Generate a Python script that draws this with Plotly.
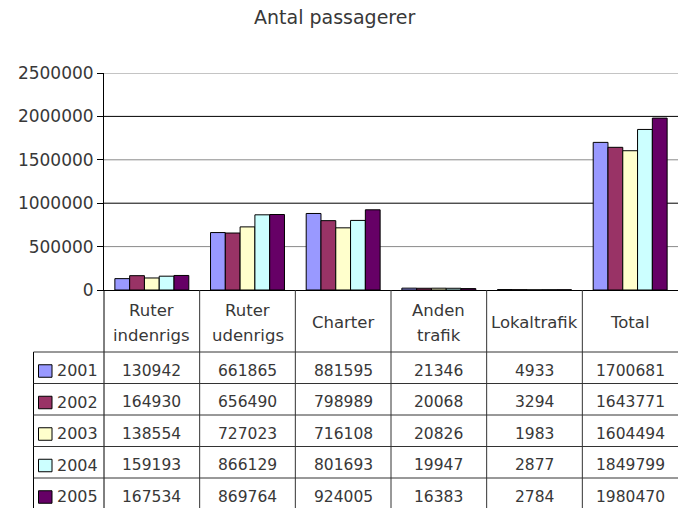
import plotly.graph_objects as go

categories = ["Ruter<br>indenrigs", "Ruter<br>udenrigs", "Charter", "Anden<br>trafik", "Lokaltrafik", "Total"]
years = ["2001", "2002", "2003", "2004", "2005"]
v2001 = [130942, 661865, 881595, 21346, 4933, 1700681]
v2002 = [164930, 656490, 798989, 20068, 3294, 1643771]
v2003 = [138554, 727023, 716108, 20826, 1983, 1604494]
v2004 = [159193, 866129, 801693, 19947, 2877, 1849799]
v2005 = [167534, 869764, 924005, 16383, 2784, 1980470]
series = [v2001, v2002, v2003, v2004, v2005]
colors = ["#9999FF", "#993366", "#FFFFCC", "#CCFFFF", "#660066"]
yticks = [0, 500000, 1000000, 1500000, 2000000, 2500000]

W, H = 678, 508
L, R, T, B = 104, 0, 73, 218
PW, PH = W - L - R, H - T - B
FONT = "DejaVu Sans"
TXT = "#383838"


def px_x(px):
    return (px - L) / PW


def px_y(py):
    return (H - B - py) / PH


fig = go.Figure()
xs = list(range(len(categories)))
for name, vals, col in zip(years, series, colors):
    fig.add_trace(go.Bar(x=xs, y=vals, name=name, marker=dict(color=col, line=dict(color="#000000", width=1)),
                         showlegend=False, hoverinfo="skip"))

shapes = []
# gridlines (alternating tones like the original rendering)
for t in yticks[1:]:
    shapes.append(dict(type="line", xref="paper", yref="y", x0=0, x1=1, y0=t, y1=t,
                       line=dict(color="#000000" if t % 1000000 == 0 else "#8a8a8a", width=1), layer="below"))

row_lines = [352, 383.5, 415, 446.5, 478, 509.5]
table_left = 33.5
# vertical column separators
for k in range(len(categories) - 1):
    shapes.append(dict(type="line", xref="x", yref="paper", x0=k + 0.5, x1=k + 0.5,
                       y0=0, y1=px_y(H + 2), line=dict(color="#333333", width=1)))
# axis line continuation through table
shapes.append(dict(type="line", xref="paper", yref="paper", x0=0, x1=0, y0=0, y1=px_y(H + 2),
                   line=dict(color="#000000", width=1)))
# left border of table
shapes.append(dict(type="line", xref="paper", yref="paper", x0=px_x(table_left), x1=px_x(table_left),
                   y0=px_y(row_lines[0]), y1=px_y(H + 2), line=dict(color="#000000", width=1)))
# horizontal lines of table
for py in row_lines:
    shapes.append(dict(type="line", xref="paper", yref="paper", x0=px_x(table_left), x1=1,
                       y0=px_y(py), y1=px_y(py), line=dict(color="#333333", width=1)))

annotations = []
# category header labels
for k, cat in enumerate(categories):
    lines = cat.split("<br>")
    ys = [322] if len(lines) == 1 else [310, 335]
    for ln, py in zip(lines, ys):
        annotations.append(dict(x=k, y=px_y(py), xref="x", yref="paper", text=ln, showarrow=False,
                                xanchor="center", yanchor="middle", font=dict(family=FONT, size=16.5, color=TXT)))

# data rows
for r, (name, vals, col) in enumerate(zip(years, series, colors)):
    cy = (row_lines[r] + row_lines[r + 1]) / 2 + 3
    for k, v in enumerate(vals):
        annotations.append(dict(x=k, y=px_y(cy), xref="x", yref="paper", text=str(v), showarrow=False,
                                xanchor="center", yanchor="middle", font=dict(family=FONT, size=15.5, color=TXT)))
    # legend key
    shapes.append(dict(type="rect", xref="paper", yref="paper", x0=px_x(38.5), x1=px_x(52), y0=px_y(cy - 6),
                       y1=px_y(cy + 6.5), fillcolor=col, line=dict(color="#000000", width=1)))
    annotations.append(dict(x=px_x(55), y=px_y(cy), xref="paper", yref="paper", text=name, showarrow=False,
                            xanchor="left", yanchor="middle", font=dict(family=FONT, size=16, color=TXT)))

annotations.append(dict(x=px_x(334.5), y=px_y(17), xref="paper", yref="paper", text="Antal passagerer",
                        showarrow=False, xanchor="center", yanchor="middle",
                        font=dict(family=FONT, size=19, color=TXT)))

fig.update_layout(
    width=W, height=H, autosize=False,
    margin=dict(l=L, r=R, t=T, b=B, pad=0),
    paper_bgcolor="white", plot_bgcolor="white",
    barmode="group", bargap=0.227, bargroupgap=0,
    shapes=shapes, annotations=annotations,
    xaxis=dict(range=[-0.5, len(categories) - 0.5], showticklabels=False, showgrid=False, zeroline=False,
               showline=True, linecolor="#000000", linewidth=1, ticks=""),
    yaxis=dict(range=[0, 2500000], tickvals=yticks, ticktext=[str(t) for t in yticks], showgrid=False,
               zeroline=False, showline=True, linecolor="#000000", linewidth=1, ticks="outside", ticklen=6,
               tickcolor="#000000", tickfont=dict(family=FONT, size=17, color=TXT), ticklabelstandoff=0),
)

fig.write_html("out.html", config={"displayModeBar": False},
               post_script="document.body.style.margin='0px';document.body.style.overflow='hidden';")
